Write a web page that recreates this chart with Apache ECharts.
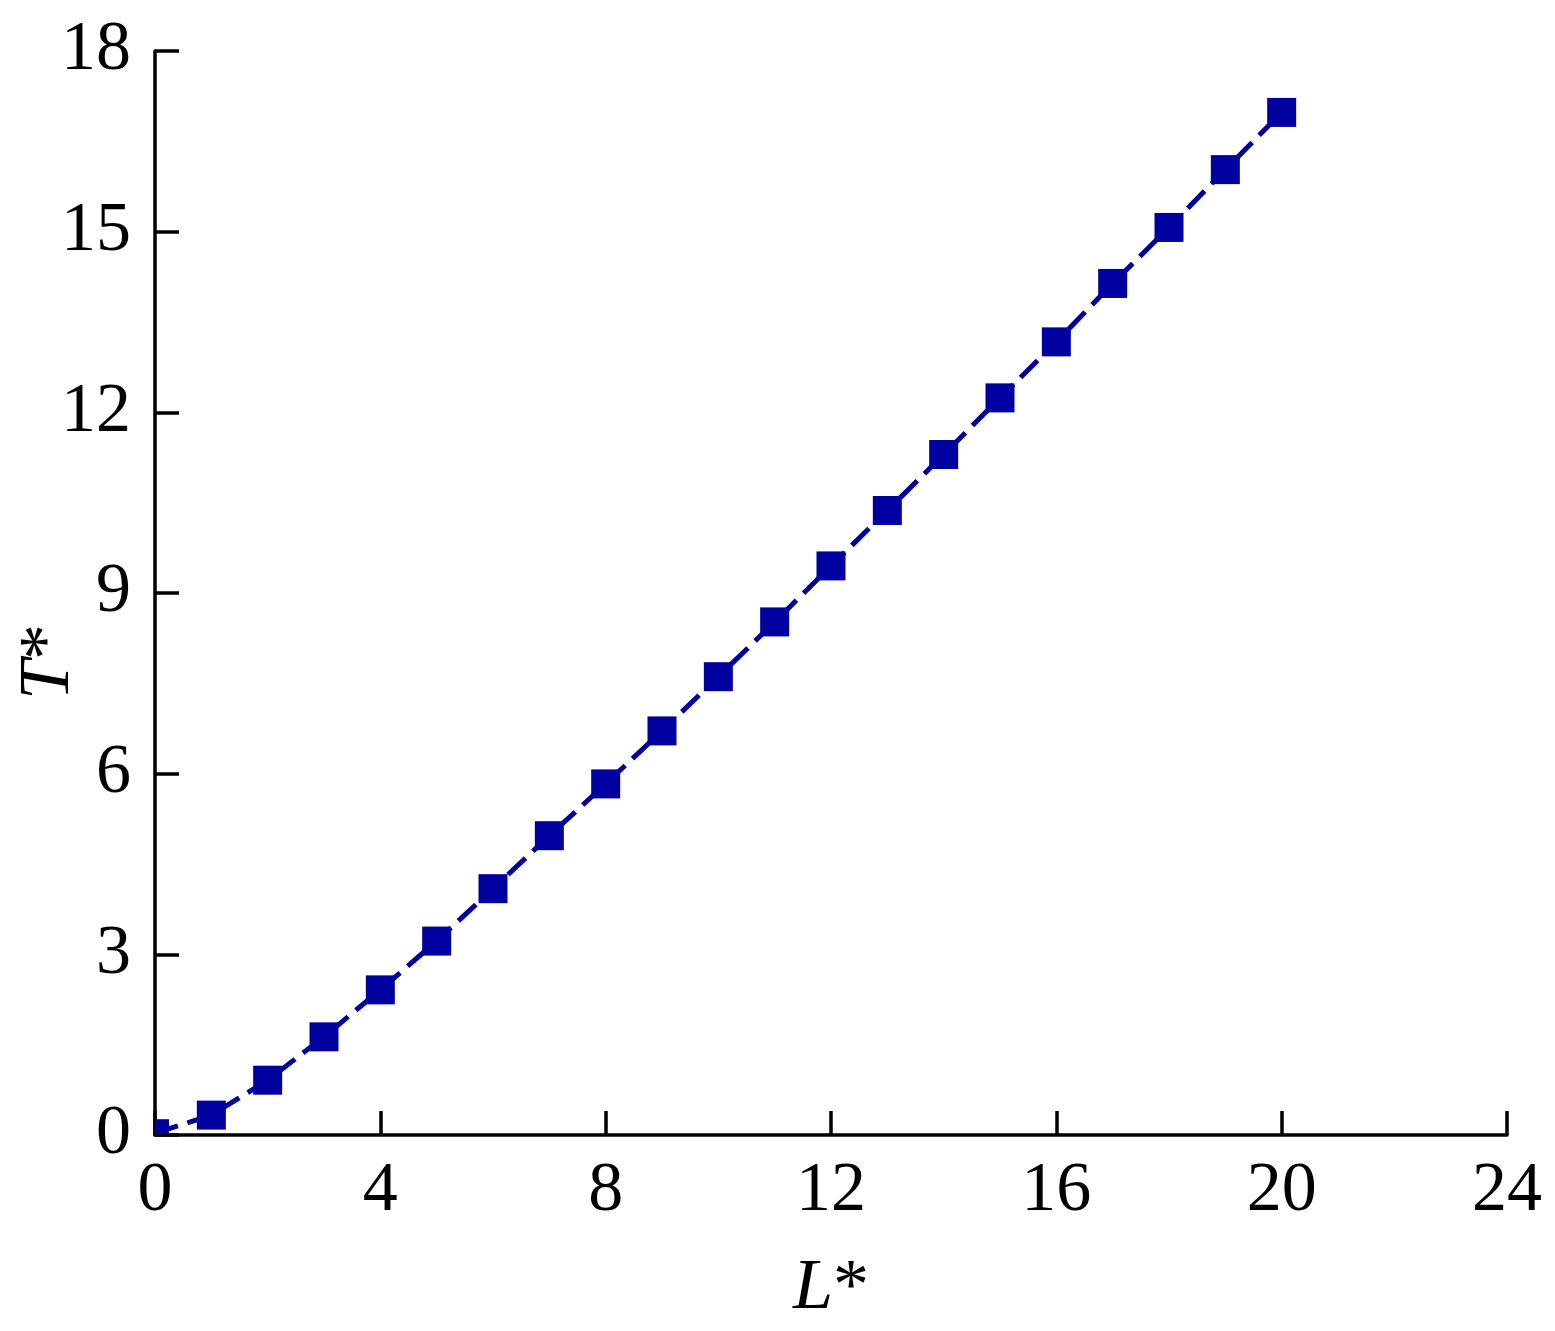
<!DOCTYPE html>
<html><head><meta charset="utf-8">
<script src="https://cdn.jsdelivr.net/npm/echarts@6/dist/echarts.min.js"></script>
<style>html,body{margin:0;padding:0;background:#fff}#c{width:1555px;height:1331px}</style>
</head><body><div id="c"></div>
<script>
const xValues = [0,1,2,3,4,5,6,7,8,9,10,11,12,13,14,15,16,17,18,19,20];
const yValues = [0.03,0.33,0.91,1.63,2.41,3.22,4.09,4.97,5.83,6.71,7.61,8.52,9.45,10.37,11.30,12.24,13.17,14.14,15.07,16.03,16.98];
const xTicks = {min:0, max:24, interval:4};
const yTicks = {min:0, max:18, interval:3};

const data = xValues.map((x,i)=>{
  if (i===0) return {value:[x,yValues[i]], symbolSize:[14,14], symbolOffset:[7,-7]};
  return [x,yValues[i]];
});
const font = '"Liberation Serif", Tinos, "Times New Roman", Times, serif';
const chart = echarts.init(document.getElementById('c'));
chart.setOption({
  animation:false,
  backgroundColor:'#fff',
  grid:{left:155, right:48, top:51, bottom:196, containLabel:false, outerBoundsMode:'none'},
  xAxis:{type:'value', min:xTicks.min, max:xTicks.max, interval:xTicks.interval,
    axisLine:{show:true, lineStyle:{color:'#000', width:3.5}},
    axisTick:{show:true, inside:true, length:24, lineStyle:{color:'#000', width:3.5}},
    splitLine:{show:false},
    axisLabel:{color:'#000', fontFamily:font, fontSize:70, margin:22},
    name:'{i|L}{n|*}', nameLocation:'middle', nameGap:118, nameMoveOverlap:false,
    nameTextStyle:{rich:{i:{fontFamily:font, fontSize:72, fontStyle:'italic', color:'#000'}, n:{fontFamily:font, fontSize:72, color:'#000'}}}
  },
  yAxis:{type:'value', min:yTicks.min, max:yTicks.max, interval:yTicks.interval,
    axisLine:{show:true, lineStyle:{color:'#000', width:3.5}},
    axisTick:{show:true, inside:true, length:24, lineStyle:{color:'#000', width:3.5}},
    splitLine:{show:false},
    axisLabel:{color:'#000', fontFamily:font, fontSize:70, margin:24},
    name:'{i|T}{n|*}{s|}', nameLocation:'middle', nameGap:70, nameRotate:90, nameMoveOverlap:false,
    nameTextStyle:{rich:{i:{fontFamily:font, fontSize:72, fontStyle:'italic', color:'#000'}, n:{fontFamily:font, fontSize:72, color:'#000'}, s:{width:138, fontSize:72}}}
  },
  series:[{
    type:'line', data:data, symbol:'rect', symbolSize:29, clip:false,
    itemStyle:{color:'#0000A0'},
    lineStyle:{color:'#0000A0', width:5, type:[24,10], dashOffset:0}
  }]
});
</script></body></html>
